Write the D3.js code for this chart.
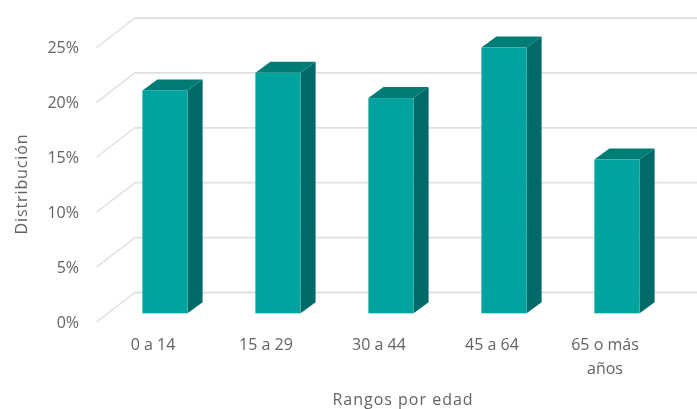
<!DOCTYPE html>
<html>
<head>
<meta charset="utf-8">
<style>
  html, body { margin: 0; padding: 0; background: #fff; }
  svg { display: block; }
  text { font-family: "Open Sans", sans-serif; fill: #636363; }
  .domain { display: none; }
  .tick line { display: none; }
</style>
<script src="https://cdnjs.cloudflare.com/ajax/libs/d3/7.8.5/d3.min.js"></script>
</head>
<body>
<svg width="697" height="409"></svg>
<script>
const categories = ['0 a 14', '15 a 29', '30 a 44', '45 a 64', '65 o más años'];
const values = [20.3, 21.9, 19.6, 24.2, 14.0];
const yTicks = [0, 5, 10, 15, 20, 25];

const width = 697;
const x0 = 96.5;
const step = 113;
const floorY = 322;
const back = { x: 38.5, y: -29.5 };
const barShift = { x: 12, y: -8.7 };
const barDepth = { x: 15, y: -11 };

const svg = d3.select('svg');

// the original is a slightly soft screenshot
svg.append('filter').attr('id', 'soft')
    .attr('x', 0).attr('y', 0).attr('width', '100%').attr('height', '100%')
    .append('feGaussianBlur').attr('stdDeviation', 0.4);

const root = svg.append('g').attr('filter', 'url(#soft)');
root.append('rect').attr('width', width).attr('height', 409).attr('fill', '#fff');

const yScale = d3.scaleLinear().domain([0, 25]).range([floorY, floorY - 274.5]);
const xScale = d3.scaleBand().domain(categories)
    .range([x0, x0 + step * 5])
    .paddingInner(0.6)
    .paddingOuter(0.3);

// back wall lines and the diagonal floor/side lines
const grid = root.append('g');
grid.selectAll('line.back')
    .data(yTicks)
    .enter()
    .append('line')
    .attr('class', 'back')
    .attr('x1', x0 + back.x)
    .attr('x2', width)
    .attr('y1', (d) => yScale(d) + back.y)
    .attr('y2', (d) => yScale(d) + back.y)
    .attr('stroke', '#e0e0e0')
    .attr('stroke-width', 1.8);
grid.selectAll('line.side')
    .data(yTicks)
    .enter()
    .append('line')
    .attr('class', 'side')
    .attr('x1', x0)
    .attr('x2', x0 + back.x)
    .attr('y1', (d) => yScale(d))
    .attr('y2', (d) => yScale(d) + back.y)
    .attr('stroke', '#e0e0e0')
    .attr('stroke-width', 1.4);

// 3d bars: side, top, then front
const bars = root.selectAll('g.bar')
    .data(categories.map((c, i) => ({ c, v: values[i] })))
    .enter()
    .append('g')
    .attr('class', 'bar')
    .attr('transform', `translate(${barShift.x}, ${barShift.y})`);

const bw = xScale.bandwidth();
const pts = (arr) => arr.map((p) => p.join(',')).join(' ');

bars.append('polygon')
    .attr('fill', '#006b67')
    .attr('points', (d) => {
        const r = xScale(d.c) + bw;
        return pts([[r, yScale(d.v)], [r + barDepth.x, yScale(d.v) + barDepth.y],
            [r + barDepth.x, yScale(0) + barDepth.y], [r, yScale(0)]]);
    });
bars.append('polygon')
    .attr('fill', '#007c77')
    .attr('points', (d) => {
        const l = xScale(d.c);
        return pts([[l, yScale(d.v)], [l + barDepth.x, yScale(d.v) + barDepth.y],
            [l + bw + barDepth.x, yScale(d.v) + barDepth.y], [l + bw, yScale(d.v)]]);
    });
bars.append('rect')
    .attr('x', (d) => xScale(d.c))
    .attr('y', (d) => yScale(d.v))
    .attr('width', bw)
    .attr('height', (d) => yScale(0) - yScale(d.v))
    .attr('fill', '#00a39d');

// axes
const yAxis = root.append('g')
    .attr('transform', `translate(${x0}, 0)`)
    .call(d3.axisLeft(yScale).tickValues(yTicks).tickSize(0).tickPadding(17.5).tickFormat((d) => d + '%'));
yAxis.selectAll('text').style('font-size', '16px');

const xAxis = root.append('g')
    .attr('transform', `translate(0, ${floorY})`)
    .call(d3.axisBottom(xScale).tickSize(0).tickPadding(17));
xAxis.selectAll('text')
    .style('font-size', '16px')
    .each(function (d) {
        // long label wraps onto two lines like in the original
        if (d.length < 10) return;
        const words = d.split(' ');
        const el = d3.select(this).text(null);
        el.append('tspan').attr('x', 0).attr('dy', '0.71em').text(words.slice(0, -1).join(' '));
        el.append('tspan').attr('x', 0).attr('dy', '1.5em').text(words[words.length - 1]);
    });

root.append('text')
    .attr('transform', 'translate(27, 184) rotate(-90)')
    .attr('text-anchor', 'middle')
    .style('font-size', '16px')
    .style('letter-spacing', '0.9px')
    .text('Distribución');

root.append('text')
    .attr('x', 403)
    .attr('y', 405)
    .attr('text-anchor', 'middle')
    .style('font-size', '16px')
    .style('letter-spacing', '1px')
    .text('Rangos por edad');
</script>
</body>
</html>
